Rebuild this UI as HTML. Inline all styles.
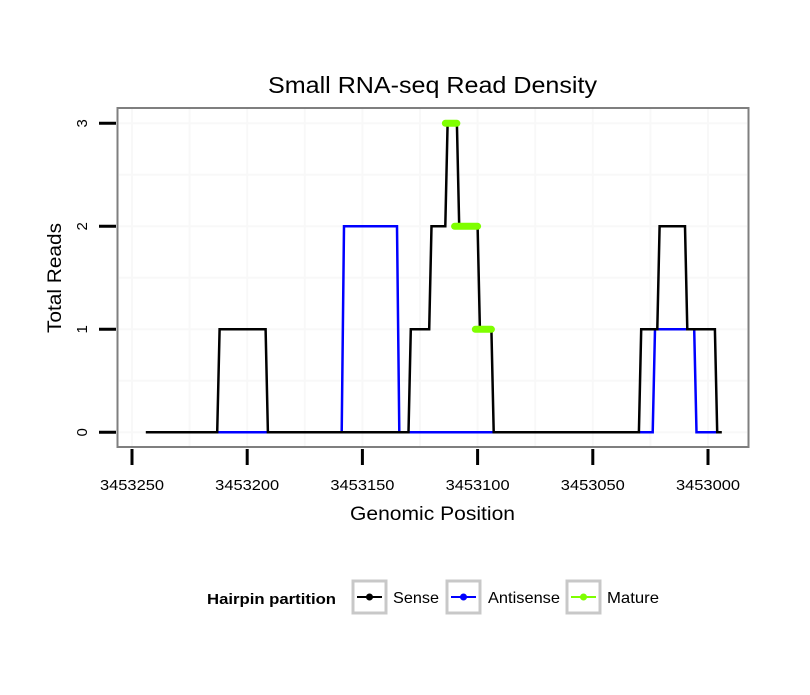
<!DOCTYPE html>
<html><head><meta charset="utf-8"><style>
body{margin:0;background:#fff;}
svg text{font-family:"Liberation Sans",sans-serif;}
</style></head><body>
<svg width="810" height="690" viewBox="0 0 810 690" xmlns="http://www.w3.org/2000/svg">
<rect x="0" y="0" width="810" height="690" fill="#fff"/>
<text x="432.5" y="93" font-size="23" text-anchor="middle" textLength="329" lengthAdjust="spacingAndGlyphs">Small RNA-seq Read Density</text>
<g id="grid"></g>
<g id="series"></g>
<rect x="117.5" y="108" width="631" height="339" fill="none" stroke="#7f7f7f" stroke-width="2"/>
<g id="axes"></g>
<text x="432.5" y="520" font-size="19" text-anchor="middle" textLength="165" lengthAdjust="spacingAndGlyphs">Genomic Position</text>
<text x="0" y="0" font-size="19" text-anchor="middle" textLength="110" lengthAdjust="spacingAndGlyphs" transform="translate(61,278) rotate(-90)">Total Reads</text>
<g>
<text x="207" y="604" font-size="15" font-weight="bold" textLength="129" lengthAdjust="spacingAndGlyphs">Hairpin partition</text>
<g>
<rect x="353" y="581" width="33" height="32" fill="#fff" stroke="#c8c8c8" stroke-width="3"/>
<line x1="357" y1="597" x2="382" y2="597" stroke="#000" stroke-width="2"/><circle cx="369.5" cy="597" r="3.5" fill="#000"/>
<text x="393" y="603" font-size="16" textLength="46" lengthAdjust="spacingAndGlyphs">Sense</text></g>
<g>
<rect x="447" y="581" width="33" height="32" fill="#fff" stroke="#c8c8c8" stroke-width="3"/>
<line x1="451" y1="597" x2="476" y2="597" stroke="#0000ff" stroke-width="2"/><circle cx="463.5" cy="597" r="3.5" fill="#0000ff"/>
<text x="488" y="603" font-size="16" textLength="72" lengthAdjust="spacingAndGlyphs">Antisense</text></g>
<g>
<rect x="567" y="581" width="33" height="32" fill="#fff" stroke="#c8c8c8" stroke-width="3"/>
<line x1="571" y1="597" x2="596" y2="597" stroke="#7fff00" stroke-width="2"/><circle cx="583.5" cy="597" r="3.5" fill="#7fff00"/>
<text x="607" y="603" font-size="16" textLength="52" lengthAdjust="spacingAndGlyphs">Mature</text></g>
</g>
</svg>
<script>
const xTicks=[3453250,3453200,3453150,3453100,3453050,3453000];
const yTicks=[0,1,2,3];
const sensePos=[3453244,3453213,3453212,3453192,3453191,3453130,3453129,3453121,3453120,3453114,3453113,3453109,3453108,3453100,3453099,3453094,3453093,3453030,3453029,3453022,3453021,3453010,3453009,3452997,3452996,3452994];
const senseVal=[0,0,1,1,0,0,1,1,2,2,3,3,2,2,1,1,0,0,1,1,2,2,1,1,0,0];
const antiPos1=[3453213,3453191];
const antiVal1=[0,0];
const antiPos2=[3453159,3453158,3453135,3453134,3453093];
const antiVal2=[0,2,2,0,0];
const antiPos3=[3453030,3453024,3453023,3453006,3453005,3452996];
const antiVal3=[0,0,1,1,0,0];
const matureStart=[3453114,3453110,3453101];
const matureEnd=[3453109,3453100,3453094];
const matureVal=[3,2,1];
const NS="http://www.w3.org/2000/svg";
const X=p=>132+(3453250-p)*2.304;
const Y=v=>432.3-v*103;
function mk(t,a,parent){const e=document.createElementNS(NS,t);for(const k in a)e.setAttribute(k,a[k]);document.getElementById(parent).appendChild(e);return e;}
for(let p=3453275;p>=3452975;p-=25){const x=X(p);if(x<119||x>747)continue;
 const l=mk('line',{x1:x,x2:x,y1:109,y2:446,stroke:'#f8f8f8','stroke-width':2},'grid');
 
 }
for(let v=-0.5;v<=3.5;v+=0.5){const y=Y(v);if(y<109||y>446)continue;
 const l=mk('line',{x1:119,x2:747,y1:y,y2:y,stroke:'#f8f8f8','stroke-width':2},'grid');
 
 }
function path(pos,val,color,name){const d=pos.map((p,i)=>(i?'L':'M')+X(p).toFixed(1)+','+Y(val[i]).toFixed(1)).join('');
 const e=mk('path',{d:d,fill:'none',stroke:color,'stroke-width':2.5},'series');
 
 }
path(antiPos1,antiVal1,'#0000ff','antisense-line');
path(antiPos2,antiVal2,'#0000ff','antisense-line');
path(antiPos3,antiVal3,'#0000ff','antisense-line');
path(sensePos,senseVal,'#000','sense-line');
matureVal.forEach((v,i)=>{const e=mk('line',{x1:X(matureStart[i]),x2:X(matureEnd[i]),y1:Y(v),y2:Y(v),stroke:'#7fff00','stroke-width':7,'stroke-linecap':'round'},'series');
 
 });
xTicks.forEach(t=>{const x=X(t);
 const l=mk('line',{x1:x,x2:x,y1:449,y2:465,stroke:'#000','stroke-width':3},'axes');
 
 
 const tx=mk('text',{x:x,y:490,'font-size':15,'text-anchor':'middle',textLength:64,lengthAdjust:'spacingAndGlyphs'},'axes');tx.textContent=t;
 
 });
yTicks.forEach(t=>{const y=Y(t);
 const l=mk('line',{x1:99,x2:116,y1:y,y2:y,stroke:'#000','stroke-width':3},'axes');
 
 
 const tx=mk('text',{x:0,y:0,'font-size':15,'text-anchor':'middle',transform:`translate(87,${y}) rotate(-90)`},'axes');tx.textContent=t;
 
 });
</script>
</body></html>
